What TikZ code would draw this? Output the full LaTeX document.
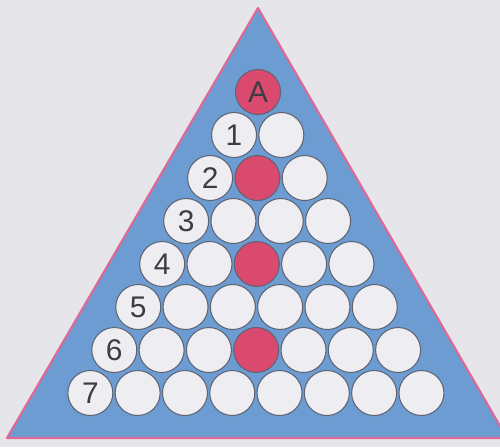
\documentclass[tikz,border=0pt]{standalone}
\usepackage{fontspec}
\setmainfont{Liberation Sans}
\definecolor{bg}{RGB}{230,230,234}
\definecolor{triblue}{RGB}{108,156,210}
\definecolor{edge}{RGB}{222,104,150}
\definecolor{ballfill}{RGB}{238,238,242}
\definecolor{ballred}{RGB}{218,74,110}
\definecolor{ballline}{RGB}{95,100,115}
\definecolor{digit}{RGB}{60,60,66}
\begin{document}
\begin{tikzpicture}[x=0.02cm,y=-0.02cm,
  ball/.style={circle, draw=ballline, line width=0.6pt, minimum size=0.9cm, inner sep=0pt,
    text=digit, font=\fontsize{17}{20}\selectfont}]
\fill[bg] (0,0) rectangle (500,447);
\useasboundingbox (0,0) rectangle (500,447);
\coordinate (apex) at (258,8);
\coordinate (bl) at (7,438);
\coordinate (br) at (507,438);
\begin{scope}
\clip (0,0) rectangle (500,447);
\filldraw[fill=triblue, draw=edge, line width=1.2pt, line join=round] (apex) -- (bl) -- (br) -- cycle;
\end{scope}
\foreach \k in {0,...,7}{
  \foreach \i in {0,...,\k}{
    \pgfmathsetmacro\cx{258-0.3*\k+(\i-\k/2)*47.3}
    \pgfmathsetmacro\cy{92+43*\k}
    \pgfmathtruncatemacro\isred{((mod(\k,2)==0) && (\i==\k/2)) ? 1 : 0}
    \ifnum\isred=1 \def\fc{ballred}\else\def\fc{ballfill}\fi
    \node[ball, fill=\fc] (c-\k-\i) at (\cx,\cy) {\ifnum\i=0 \ifnum\k=0 A\else\k\fi\fi};
  }
}
\end{tikzpicture}
\end{document}
